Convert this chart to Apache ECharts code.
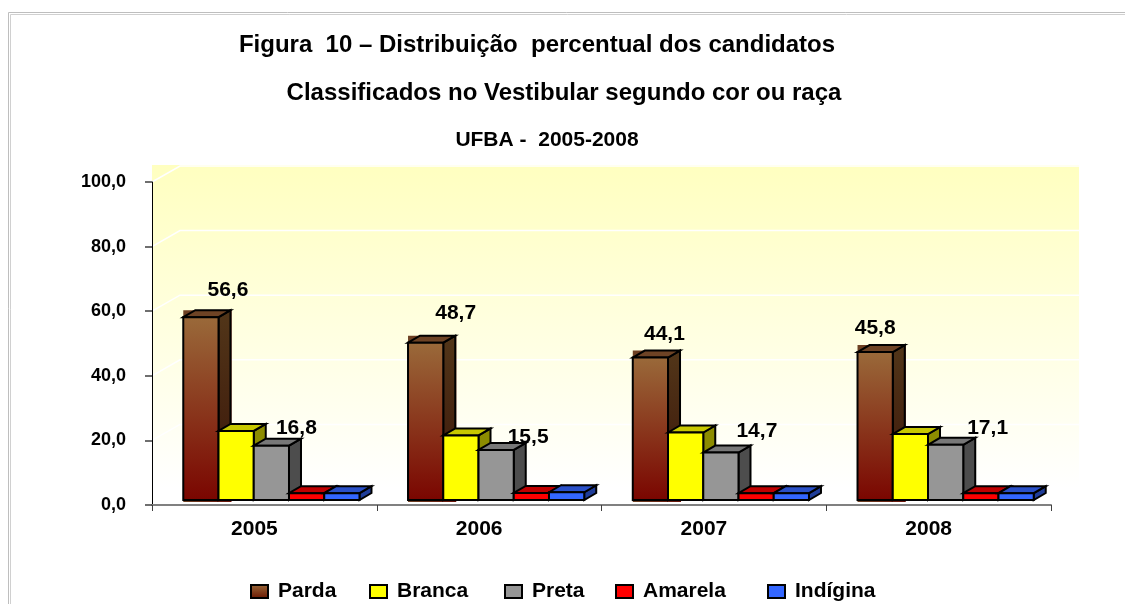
<!DOCTYPE html>
<html>
<head>
<meta charset="utf-8">
<style>html,body{margin:0;padding:0;background:#fff}#c{width:1125px;height:604px}</style>
<script src="https://cdn.jsdelivr.net/npm/echarts@6/dist/echarts.min.js"></script>
</head>
<body>
<div id="c"></div>
<script>
const years = ['2005', '2006', '2007', '2008'];
const parda = [56.6, 48.7, 44.1, 45.8];
const branca = [21.4, 20.0, 20.9, 20.4];
const preta = [16.8, 15.5, 14.7, 17.1];
const amarela = [2.1, 2.2, 2.1, 2.1];
const indigina = [2.1, 2.4, 2.1, 2.1];
const yTicks = [0, 20, 40, 60, 80, 100];
const titleLines = ['Figura  10 – Distribuição  percentual dos candidatos', 'Classificados no Vestibular segundo cor ou raça', 'UFBA -  2005-2008'];

const FONT = '"Liberation Sans", Arial, sans-serif';
const grad = (a, b) => new echarts.graphic.LinearGradient(0, 0, 0, 1, [{offset: 0, color: a}, {offset: 1, color: b}]);
const styles = [
  {name: 'Parda', values: parda, front: grad('#9A6A3A', '#7A0500'), side: grad('#523619', '#3A1408'), top: '#6E4325', labels: true, nudge: [[27, -27], [30, -29], [14, -23], [0, -24]], back: true},
  {name: 'Branca', values: branca, front: '#FFFF00', side: '#8C8C00', top: '#C8C800'},
  {name: 'Preta', values: preta, front: '#969696', side: '#4D4D4D', top: '#787878', labels: true, nudge: [[25, -18], [32, -13], [36, -21], [42, -17]]},
  {name: 'Amarela', values: amarela, front: '#FF0000', side: '#800000', top: '#C00000'},
  {name: 'Indígina', values: indigina, front: '#3366FF', side: '#1F3D99', top: '#2A50C8'}
];
const legendLeft = [250, 369, 504, 615, 767];
const DX = 12, DY = -7, SHIFT_X = 7, SHIFT_Y = -5, WALL_X = 28, WALL_Y = -17, LINE_Y = -16;

const fmt = v => v.toFixed(1).replace('.', ',');

function barItem(si) {
  const s = styles[si];
  return function (params, api) {
    const idx = api.value(0), val = api.value(1);
    const band = api.size([1, 0])[0];
    const bw = band * 0.1568;
    const c = api.coord([idx, val]), c0 = api.coord([idx, 0]);
    const x0 = c[0] + (si - 2.5) * bw + SHIFT_X, x1 = x0 + bw;
    const yT = c[1] + SHIFT_Y, yB = c0[1] + SHIFT_Y;
    const line = {stroke: '#000', lineWidth: 2, lineJoin: 'miter'};
    const children = [];
    if (s.back) {
      children.push({type: 'rect', shape: {x: x0, y: yT + DY, width: bw + DX + 1, height: yB - yT - DY + 2},
        style: {fill: new echarts.graphic.LinearGradient(0, 0, 1, 0, [{offset: 0, color: '#6E4325'}, {offset: 1, color: '#6A1208'}])}});
    }
    children.push(
      {type: 'polygon', shape: {points: [[x1, yT], [x1 + DX, yT + DY], [x1 + DX, yB + DY], [x1, yB]]}, style: Object.assign({fill: s.side}, line)},
      {type: 'polygon', shape: {points: [[x0, yT], [x0 + DX, yT + DY], [x1 + DX, yT + DY], [x1, yT]]}, style: Object.assign({fill: s.top}, line)},
      {type: 'rect', shape: {x: x0, y: yT, width: bw, height: yB - yT}, style: Object.assign({fill: s.front}, line)}
    );
    if (s.labels) {
      const n = s.nudge[idx];
      children.push({type: 'text', z2: 100, style: {text: fmt(val), x: (x0 + x1) / 2 + n[0], y: yT + n[1],
        align: 'center', verticalAlign: 'middle', fill: '#000', font: 'bold 21px ' + FONT}});
    }
    return {type: 'group', children};
  };
}

function wallItem(params, api) {
  const g = params.coordSys;
  const y = api.coord([0, api.value(0)])[1];
  const x0 = g.x, x1 = g.x + g.width + WALL_X;
  return {type: 'polyline', shape: {points: [[x0, y], [x0 + WALL_X, y + LINE_Y], [x1, y + LINE_Y]]},
    style: {stroke: '#fff', lineWidth: 1.5, fill: null}};
}

function wallBack(params, api) {
  const g = params.coordSys;
  return {type: 'rect', shape: {x: g.x, y: g.y + WALL_Y, width: g.width + WALL_X, height: g.height - WALL_Y},
    style: {fill: new echarts.graphic.LinearGradient(0, 0, 0, 1, [{offset: 0, color: '#FFFFC0'}, {offset: 0.95, color: '#FFFFFF'}, {offset: 1, color: '#FFFFFF'}])}};
}

const series = [
  {type: 'custom', name: 'wallBack', coordinateSystem: 'cartesian2d', clip: false, silent: true, renderItem: wallBack, data: [[0]], encode: {y: 0}, z: 0},
  {type: 'custom', name: 'wallLines', coordinateSystem: 'cartesian2d', clip: false, silent: true, renderItem: wallItem, data: yTicks.slice(1).map(v => [v]), encode: {y: 0}, z: 0}
].concat(styles.map((s, i) => ({
  type: 'custom', name: s.name, coordinateSystem: 'cartesian2d', clip: false, silent: true,
  renderItem: barItem(i), data: s.values.map((v, k) => [k, v]), encode: {x: 0, y: 1}, z: 3
})));

const titleStyle = size => ({fontFamily: FONT, fontWeight: 'bold', fontSize: size, color: '#000'});
const chart = echarts.init(document.getElementById('c'), null, {renderer: 'canvas'});
chart.setOption({
  animation: false,
  backgroundColor: '#fff',
  grid: {left: 152, right: 74, top: 182, bottom: 99},
  xAxis: {type: 'category', data: years, boundaryGap: true, z: 2,
    axisLine: {show: true, onZero: true, lineStyle: {color: '#808080', width: 2}},
    axisTick: {show: true, length: 6, lineStyle: {color: '#404040', width: 1}},
    axisLabel: {color: '#000', fontFamily: FONT, fontWeight: 'bold', fontSize: 21, margin: 14, padding: [0, 20, 0, 0]},
    splitLine: {show: false}},
  yAxis: {type: 'value', min: 0, max: 100, interval: 20, z: 2,
    axisLine: {show: true, lineStyle: {color: '#000', width: 1}},
    axisTick: {show: true, length: 7, lineStyle: {color: '#404040', width: 1.5}},
    axisLabel: {color: '#000', fontFamily: FONT, fontWeight: 'bold', fontSize: 18, margin: 26, formatter: fmt},
    splitLine: {show: false}},
  title: [
    {text: titleLines[0], left: 537, top: 45, textAlign: 'center', textVerticalAlign: 'middle', padding: 0, textStyle: titleStyle(24)},
    {text: titleLines[1], left: 564, top: 93, textAlign: 'center', textVerticalAlign: 'middle', padding: 0, textStyle: titleStyle(24)},
    {text: titleLines[2], left: 547, top: 140, textAlign: 'center', textVerticalAlign: 'middle', padding: 0, textStyle: titleStyle(21)}
  ],
  legend: styles.map((s, i) => ({
    left: legendLeft[i], top: 581, padding: 0, itemWidth: 17, itemHeight: 13, itemGap: 0, selectedMode: false,
    textStyle: {fontFamily: FONT, fontWeight: 'bold', fontSize: 21, color: '#000', padding: [0, 0, 0, 5]},
    data: [{name: s.name, icon: 'rect', itemStyle: {color: i === 0 ? grad('#9A6A3A', '#6A1500') : s.front, borderColor: '#000', borderWidth: 2}}]
  })),
  graphic: [
    {type: 'polyline', silent: true, z: -1, shape: {points: [[8.5, 604], [8.5, 12.5], [1125, 12.5]]}, style: {stroke: '#BEBEBE', lineWidth: 1, fill: null}},
    {type: 'polyline', silent: true, z: -1, shape: {points: [[10.5, 604], [10.5, 14.5], [1125, 14.5]]}, style: {stroke: '#D0D0D0', lineWidth: 1, fill: null}}
  ],
  series
});
</script>
</body>
</html>
